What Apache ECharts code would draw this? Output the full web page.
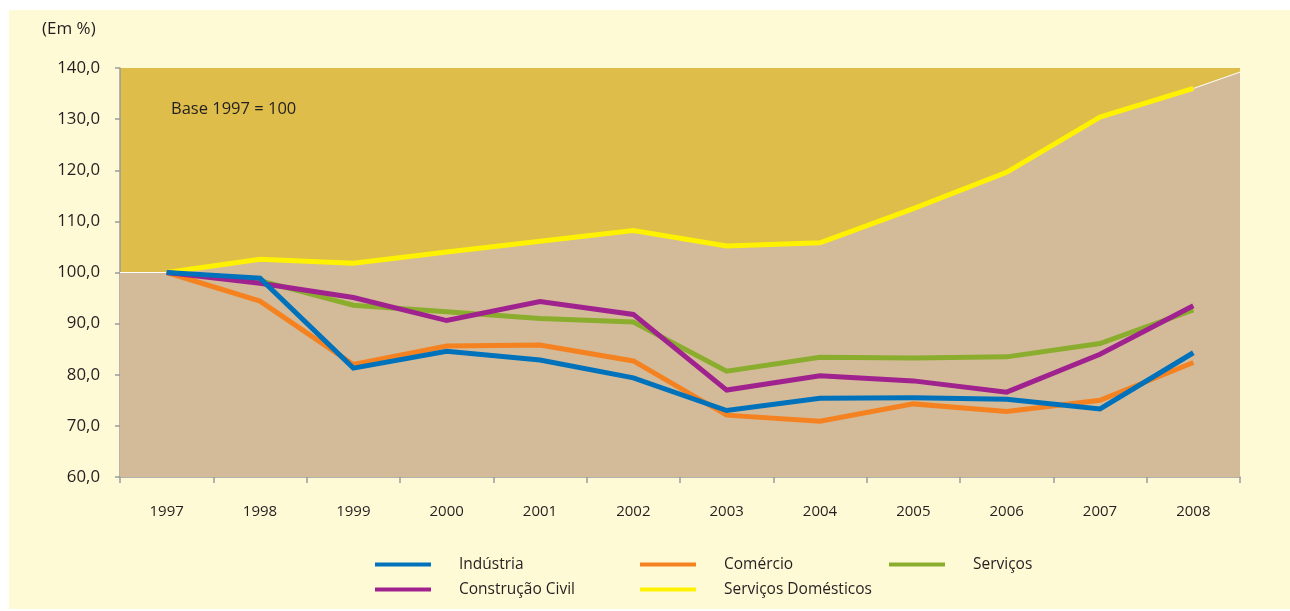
<!DOCTYPE html>
<html>
<head>
<meta charset="utf-8">
<script src="https://cdn.jsdelivr.net/npm/echarts@6/dist/echarts.min.js"></script>
<style>
  html, body { margin: 0; padding: 0; background: #ffffff; }
  #frame { position: absolute; left: 9px; top: 10px; width: 1281px; height: 599px; background: #FFFAD6; }
  #chart { width: 1281px; height: 599px; }
</style>
</head>
<body>
<div id="frame"><div id="chart"></div></div>
<script>
// ── Data ──────────────────────────────────────────────────────────────────────

const years = ['1997', '1998', '1999', '2000', '2001', '2002', '2003', '2004', '2005', '2006', '2007', '2008'];

const industria    = [100, 98.9, 81.3, 84.6, 82.9, 79.4, 73.0, 75.4, 75.5, 75.2, 73.3, 84.3];
const comercio     = [100, 94.4, 82.0, 85.6, 85.8, 82.7, 72.1, 70.9, 74.3, 72.8, 75.0, 82.4];
const servicos     = [100, 98.4, 93.6, 92.3, 91.0, 90.3, 80.7, 83.4, 83.3, 83.5, 86.1, 92.7];
const construcao   = [100, 97.9, 95.1, 90.6, 94.3, 91.8, 77.0, 79.8, 78.8, 76.6, 84.0, 93.5];
const domesticos   = [100, 102.6, 101.8, 104.0, 106.1, 108.2, 105.2, 105.8, 112.5, 119.6, 130.4, 136.0];

// values where the shaded area meets the left and right plot edges
const areaEdges = [100, 139.2];

const yTicks = { min: 60, max: 140, step: 10 };

// ── Style ─────────────────────────────────────────────────────────────────────

const FONT = '"Open Sans", "Noto Sans", sans-serif';
const INK  = '#231F20';
const AXIS = '#9A9CA0';

const seriesDefs = [
  { name: 'Serviços',             data: servicos,   color: '#8AAD2E', z: 3 },
  { name: 'Comércio',             data: comercio,   color: '#F58220', z: 3 },
  { name: 'Serviços Domésticos',  data: domesticos, color: '#FFF200', z: 3 },
  { name: 'Construção Civil',     data: construcao, color: '#A0228E', z: 4 },
  { name: 'Indústria',            data: industria,  color: '#0072BC', z: 5 },
];

// area under Serviços Domésticos on a hidden value axis (band centres at i + 0.5)
const areaData = [[0, areaEdges[0]]]
  .concat(domesticos.map((v, i) => [i + 0.5, v]))
  .concat([[years.length, areaEdges[1]]]);

function legendCol(left, names) {
  return {
    orient: 'vertical',
    left: left,
    top: 546,
    padding: 0,
    data: names,
    icon: 'rect',
    itemWidth: 56,
    itemHeight: 4,
    itemGap: 8,
    selectedMode: false,
    textStyle: { fontFamily: FONT, fontSize: 15.5, color: INK, lineHeight: 17, padding: [0, 0, 0, 23] },
  };
}

const chart = echarts.init(document.getElementById('chart'), null, { renderer: 'canvas' });

chart.setOption({
  animation: false,
  backgroundColor: 'transparent',
  title: [
    { text: '(Em %)', left: 33, top: 11, padding: 0,
      textStyle: { fontFamily: FONT, fontSize: 17, fontWeight: 'normal', color: INK } },
    { text: 'Base 1997 = 100', left: 162, top: 91, padding: 0,
      textStyle: { fontFamily: FONT, fontSize: 16.5, fontWeight: 'normal', color: INK } },
  ],
  legend: [
    legendCol(366, ['Indústria', 'Construção Civil']),
    legendCol(631, ['Comércio', 'Serviços Domésticos']),
    legendCol(880, ['Serviços']),
  ],
  grid: {
    left: 111, right: 50, top: 58, bottom: 132,
    show: true, backgroundColor: '#DEBD4A', borderWidth: 0,
  },
  xAxis: [
    {
      type: 'category',
      data: years,
      boundaryGap: true,
      axisLine: { lineStyle: { color: AXIS, width: 1.5 } },
      axisTick: { show: true, length: 6, interval: 0, lineStyle: { color: AXIS, width: 1.5 } },
      axisLabel: { fontFamily: FONT, fontSize: 15, color: INK, margin: 27, interval: 0 },
      splitLine: { show: false },
    },
    {
      type: 'value',
      min: 0, max: years.length,
      show: false,
      splitLine: { show: false },
    },
  ],
  yAxis: {
    type: 'value',
    min: yTicks.min, max: yTicks.max, interval: yTicks.step,
    axisLine: { show: true, lineStyle: { color: AXIS, width: 1.5 } },
    axisTick: { show: true, length: 5, lineStyle: { color: AXIS, width: 1.5 } },
    axisLabel: {
      fontFamily: FONT, fontSize: 16.8, color: INK, margin: 20,
      formatter: v => v.toFixed(1).replace('.', ','),
    },
    splitLine: { show: false },
  },
  series: [
    {
      name: '_area',
      type: 'line',
      xAxisIndex: 1,
      data: areaData,
      symbol: 'none',
      lineStyle: { color: '#FFFFFF', width: 1 },
      areaStyle: { color: '#D3BB99', opacity: 1, origin: 'start' },
      z: 1,
      silent: true,
    },
    ...seriesDefs.map(s => ({
      name: s.name,
      type: 'line',
      data: s.data,
      color: s.color,
      symbol: 'none',
      lineStyle: { color: s.color, width: 5, cap: 'butt', join: 'miter' },
      z: s.z,
      silent: true,
    })),
  ],
});
</script>
</body>
</html>
